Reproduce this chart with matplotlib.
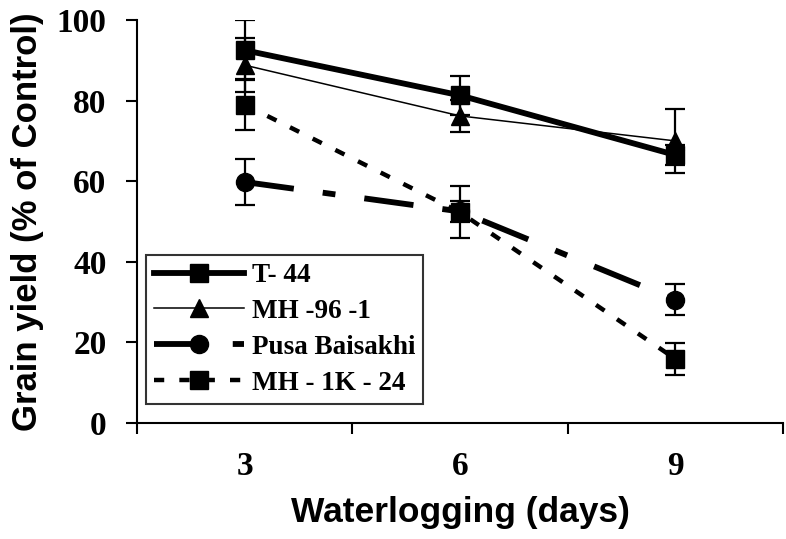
import numpy as np
import matplotlib
matplotlib.use("Agg")
import matplotlib.pyplot as plt
from matplotlib.font_manager import FontProperties

# datos
dias = ["3", "6", "9"]
t44 = [92.5, 81.3, 66.5]
t44_err = [7.5, 4.8, 2.5]
mh96 = [88.8, 76.2, 70.0]
mh96_err = [6.7, 4.0, 8.0]
pusa = [59.8, 52.5, 30.6]
pusa_err = [5.8, 2.5, 3.8]
mh1k = [79.0, 52.3, 15.9]
mh1k_err = [6.3, 6.5, 4.0]

serif_b = {"family": "Liberation Serif", "weight": "bold"}
sans_b = {"family": "Liberation Sans", "weight": "bold"}

fig = plt.figure(figsize=(7.86, 5.39), dpi=100)
ax = fig.add_axes([137 / 786, 1 - 423 / 539, (783 - 137) / 786, (423 - 20) / 539])

x = np.arange(len(dias))

series = [
    ("T- 44", t44, t44_err, dict(color="black", lw=4.2, ls="-", marker="s", ms=13)),
    ("MH -96 -1", mh96, mh96_err, dict(color="black", lw=1.1, ls="-", marker="^", ms=13)),
    ("Pusa Baisakhi", pusa, pusa_err, dict(color="black", lw=4.2, ls=(0, (8.5, 5.0, 2.2, 5.0)), marker="o", ms=13)),
    ("MH - 1K - 24", mh1k, mh1k_err, dict(color="black", lw=3.2, ls=(0, (2.3, 3.4)), marker="s", ms=13)),
]

for nombre, vals, err, estilo in series:
    ax.errorbar(x, vals, yerr=err, fmt="none", ecolor="black", elinewidth=1.6,
                capsize=7, capthick=1.6, zorder=2)
    ax.plot(x, vals, label=nombre, zorder=3, **estilo)

ax.set_xlim(-0.5, 2.5)
ax.set_ylim(0, 100)
ax.set_yticks(np.arange(0, 101, 20))
ax.set_xticks(x)
ax.set_xticklabels(dias)
ax.set_xticks([-0.5, 0.5, 1.5, 2.5], minor=True)
ax.tick_params(axis="x", which="major", length=0, pad=20)
ax.tick_params(axis="x", which="minor", length=8, width=1.5, direction="out")
ax.tick_params(axis="y", length=8, width=1.5, direction="out", pad=14)

for lbl in ax.get_xticklabels() + ax.get_yticklabels():
    lbl.set_fontproperties(FontProperties(size=24, **serif_b))

for s in ["top", "right"]:
    ax.spines[s].set_visible(False)
for s in ["left", "bottom"]:
    ax.spines[s].set_linewidth(1.5)

ax.set_xlabel("Waterlogging (days)", fontsize=25.5, labelpad=10, **sans_b)
ax.set_ylabel("Grain yield (% of Control)", fontsize=25, labelpad=9, **sans_b)

leg = ax.legend(loc="upper left", bbox_to_anchor=(146 / 786, 1 - 255 / 539),
                bbox_transform=fig.transFigure, frameon=True, fancybox=False,
                edgecolor="black", handlelength=3.3, numpoints=1,
                prop=FontProperties(size=19.5, **serif_b),
                borderaxespad=0, labelspacing=0.4, handletextpad=0.3,
                borderpad=0.3)
leg.get_frame().set_linewidth(1.5)

fig.savefig("out.png", dpi=100)
